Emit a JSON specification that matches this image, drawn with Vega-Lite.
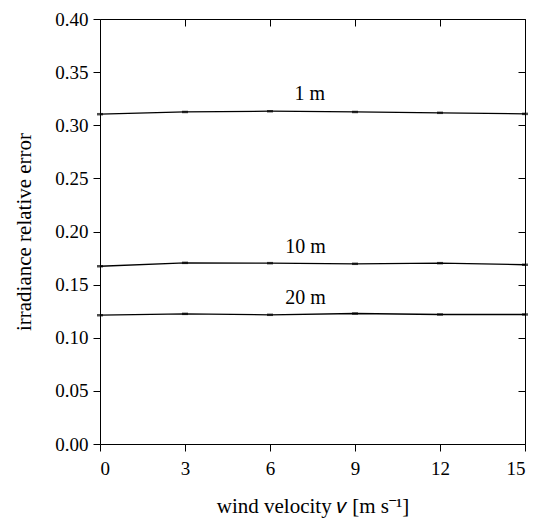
{
  "$schema": "https://vega.github.io/schema/vega-lite/v6.json",
  "width": 425,
  "height": 425,
  "autosize": "none",
  "padding": {"left": 100, "top": 19, "right": 11, "bottom": 75},
  "background": "white",
  "config": {
    "view": {"stroke": null},
    "font": "Liberation Serif",
    "axis": {
      "grid": false,
      "domainColor": "black",
      "tickColor": "black",
      "labelColor": "black",
      "titleColor": "black",
      "labelFont": "Liberation Serif",
      "titleFont": "Liberation Serif",
      "labelFontSize": 19,
      "titleFontSize": 21,
      "titleFontWeight": "normal",
      "tickSize": 7,
      "domainWidth": 1,
      "tickWidth": 1
    }
  },
  "datasets": {
    "curves": [
      {"v": 0, "err": 0.3104, "h": "1 m"},
      {"v": 3, "err": 0.3125, "h": "1 m"},
      {"v": 6, "err": 0.3132, "h": "1 m"},
      {"v": 9, "err": 0.3125, "h": "1 m"},
      {"v": 12, "err": 0.3117, "h": "1 m"},
      {"v": 15, "err": 0.3107, "h": "1 m"},
      {"v": 0, "err": 0.1673, "h": "10 m"},
      {"v": 3, "err": 0.1705, "h": "10 m"},
      {"v": 6, "err": 0.1702, "h": "10 m"},
      {"v": 9, "err": 0.1696, "h": "10 m"},
      {"v": 12, "err": 0.1702, "h": "10 m"},
      {"v": 15, "err": 0.1687, "h": "10 m"},
      {"v": 0, "err": 0.1212, "h": "20 m"},
      {"v": 3, "err": 0.1225, "h": "20 m"},
      {"v": 6, "err": 0.1216, "h": "20 m"},
      {"v": 9, "err": 0.1228, "h": "20 m"},
      {"v": 12, "err": 0.1219, "h": "20 m"},
      {"v": 15, "err": 0.1219, "h": "20 m"}
    ],
    "labels": [
      {"v": 7.4, "err": 0.3295, "label": "1 m"},
      {"v": 7.25, "err": 0.1855, "label": "10 m"},
      {"v": 7.25, "err": 0.1375, "label": "20 m"}
    ]
  },
  "resolve": {"axis": {"x": "independent", "y": "independent"}},
  "layer": [
    {
      "data": {"name": "curves"},
      "mark": {"type": "line", "color": "black", "strokeWidth": 1.3},
      "encoding": {
        "x": {
          "field": "v", "type": "quantitative",
          "scale": {"domain": [0, 15], "nice": false, "zero": false},
          "axis": {"values": [0, 3, 6, 9, 12, 15], "title": "wind velocity 𝑣 [m s⁻¹]", "labelPadding": 8, "titlePadding": 17}
        },
        "y": {
          "field": "err", "type": "quantitative",
          "scale": {"domain": [0, 0.4], "nice": false},
          "axis": {"values": [0, 0.05, 0.1, 0.15, 0.2, 0.25, 0.3, 0.35, 0.4], "format": ".2f", "title": "irradiance relative error", "labelPadding": 5, "titlePadding": 20}
        },
        "detail": {"field": "h"}
      }
    },
    {
      "data": {"name": "curves"},
      "mark": {"type": "tick", "orient": "horizontal", "color": "black", "size": 6, "thickness": 2.5},
      "encoding": {
        "x": {"field": "v", "type": "quantitative", "axis": null},
        "y": {"field": "err", "type": "quantitative", "axis": null}
      }
    },
    {
      "data": {"name": "labels"},
      "mark": {"type": "text", "font": "Liberation Serif", "fontSize": 20, "color": "black", "align": "center", "baseline": "middle"},
      "encoding": {
        "x": {"field": "v", "type": "quantitative", "axis": null},
        "y": {"field": "err", "type": "quantitative", "axis": null},
        "text": {"field": "label"}
      }
    },
    {
      "data": {"name": "curves"},
      "mark": {"type": "point", "opacity": 0},
      "encoding": {
        "x": {"field": "v", "type": "quantitative", "axis": {"orient": "top", "values": [0, 3, 6, 9, 12, 15], "labels": false, "title": null, "tickSize": -7}},
        "y": {"field": "err", "type": "quantitative", "axis": {"orient": "right", "values": [0, 0.05, 0.1, 0.15, 0.2, 0.25, 0.3, 0.35, 0.4], "labels": false, "title": null, "tickSize": -7}}
      }
    }
  ]
}
